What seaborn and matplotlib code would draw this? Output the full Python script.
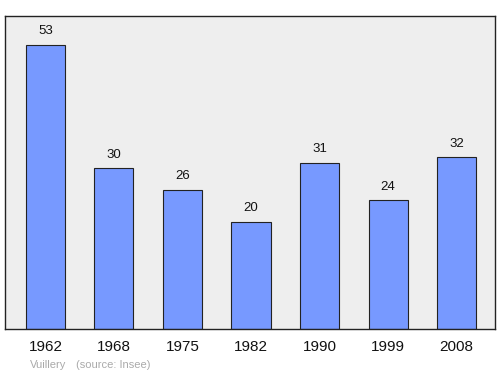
import matplotlib
matplotlib.use("Agg")
import matplotlib.pyplot as plt
import seaborn as sns
import pandas as pd

years = ["1962", "1968", "1975", "1982", "1990", "1999", "2008"]
population = [53, 30, 26, 20, 31, 24, 32]
town = "Vuillery"
source = "(source: Insee)"

sns.set_style("white")
plt.rcParams['font.family'] = ['Liberation Sans', 'DejaVu Sans']

df = pd.DataFrame({"year": years, "pop": population})

fig = plt.figure(figsize=(5, 3.74), dpi=100)
ax = fig.add_axes([5/500, 1 - 329/374, 490/500, 313/374])
ax.set_facecolor("#eeeeee")
sns.barplot(data=df, x="year", y="pop", color="#7799ff", saturation=1,
            edgecolor="#222222", linewidth=0.8, width=0.57, ax=ax)
ax.set_xlim(-0.59, 6.56)
ax.set_ylim(0, 58.4)
for i, v in enumerate(population):
    ax.text(i, v + 1.4, str(v), ha="center", va="bottom", fontsize=9.5, color="#111111")
ax.set_yticks([])
ax.set_xlabel("")
ax.set_ylabel("")
ax.tick_params(axis="x", length=0, labelsize=11, pad=8, colors="#111111")
for s in ax.spines.values():
    s.set_color("#222222")
    s.set_linewidth(1.0)
fig.text(30/500, 1 - 365/374, town, fontsize=8, color="#aaaaaa", va="center")
fig.text(76/500, 1 - 365/374, source, fontsize=8, color="#aaaaaa", va="center")
fig.savefig("out.png", dpi=100)
